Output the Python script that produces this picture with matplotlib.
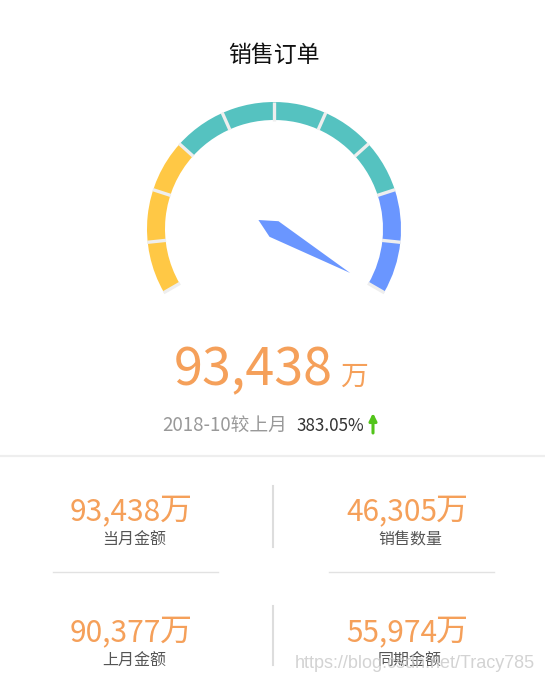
import numpy as np
import matplotlib
matplotlib.use("Agg")
from matplotlib import pyplot as plt
from matplotlib.patches import Wedge, Polygon

plt.rcParams['font.family'] = ['Noto Sans CJK SC', 'DejaVu Sans']

W, H = 545, 680

title = "销售订单"
gauge_stops = [0.3, 0.8, 1.0]
gauge_colors = ["#ffc845", "#55c2c0", "#6a96ff"]
gauge_split = 10
gauge_value = 383.05   # 较上月 %
gauge_max = 100.0

main_value = 93438
unit = "万"
period = "2018-10"
compare_text = "较上月"
change_pct = 383.05

card_labels = ["当月金额", "销售数量", "上月金额", "同期金额"]
card_values = [93438, 46305, 90377, 55974]

orange = "#f5a05a"

fig = plt.figure(figsize=(W / 100, H / 100), dpi=100)
ax = fig.add_axes([0, 0, 1, 1])
ax.set_xlim(0, W)
ax.set_ylim(H, 0)
ax.axis("off")

# title
ax.text(274, 55, title, ha="center", va="center", fontsize=16.5, color="#111111")

# gauge (screen coords, y down -> angles flip)
cx, cy = 274, 229
r_out, ring = 127, 18
a0, a1 = 210, -30
span = a0 - a1


def ang(frac):
    return a0 - span * frac


prev = 0.0
for stop, col in zip(gauge_stops, gauge_colors):
    w = Wedge((cx, cy), r_out, -ang(prev), -ang(stop), width=ring,
              facecolor=col, edgecolor="none")
    ax.add_patch(w)
    prev = stop

for i in range(gauge_split + 1):
    t = np.deg2rad(ang(i / gauge_split))
    xs = [cx + (r_out - ring - 0.5) * np.cos(t), cx + (r_out + 0.5) * np.cos(t)]
    ys = [cy - (r_out - ring - 0.5) * np.sin(t), cy - (r_out + 0.5) * np.sin(t)]
    ax.plot(xs, ys, color="#eeeeee", lw=2.4, solid_capstyle="butt")

# pointer
frac = min(gauge_value / gauge_max, 1.0)
p_col = gauge_colors[-1]
for stop, col in zip(gauge_stops, gauge_colors):
    if frac <= stop:
        p_col = col
        break
t = np.deg2rad(ang(frac))
d = np.array([np.cos(t), -np.sin(t)])
p = np.array([-d[1], d[0]])
c = np.array([cx, cy])
pw, plen = 9, 88
pts = [c - d * pw * 2, c + p * pw, c + d * plen, c - p * pw]
ax.add_patch(Polygon(pts, closed=True, facecolor=p_col, edgecolor="none"))

# main value
ax.text(333, 385, f"{main_value:,}", ha="right", va="baseline",
        fontsize=37.5, color=orange)
ax.text(340, 385, unit, ha="left", va="baseline", fontsize=20, color=orange)

# compare line
ax.text(287, 431, period + compare_text, ha="right", va="baseline",
        fontsize=13.5, color="#999999")
ax.text(296, 431, f"{change_pct:.2f}%", ha="left", va="baseline",
        fontsize=12.3, color="#333333")
ax.annotate("", xy=(373, 413), xytext=(373, 433),
            arrowprops=dict(arrowstyle="-|>", color="#52c41a", lw=2.2,
                            mutation_scale=11, shrinkA=0, shrinkB=0))

# separator
ax.plot([0, W], [456, 456], color="#eeeeee", lw=1.6)

# cards
col_x = [134, 410]
row_y = [520, 641]
label_y = [540, 661]
for k, (lab, val) in enumerate(zip(card_labels, card_values)):
    cxk = col_x[k % 2]
    rk = k // 2
    ax.text(cxk + 27, row_y[rk], f"{val:,}", ha="right", va="baseline",
            fontsize=21.5, color=orange)
    ax.text(cxk + 26, row_y[rk], unit, ha="left", va="baseline",
            fontsize=23, color=orange)
    ax.text(cxk, label_y[rk], lab, ha="center", va="center",
            fontsize=11.5, color="#555555")

ax.plot([273, 273], [486, 547], color="#dddddd", lw=1.5)
ax.plot([273, 273], [606, 665], color="#dddddd", lw=1.5)
ax.plot([53, 218], [572, 572], color="#e2e2e2", lw=1.0)
ax.plot([329, 494], [572, 572], color="#e2e2e2", lw=1.0)

# watermark (present in the reference image)
ax.text(535, 663, "https://blog.csdn.net/Tracy785", ha="right", va="center",
        fontsize=13, color="#c8c8c8", alpha=0.8,
        family=["Liberation Sans", "DejaVu Sans"])

fig.savefig("out.png", dpi=100, facecolor="white")
